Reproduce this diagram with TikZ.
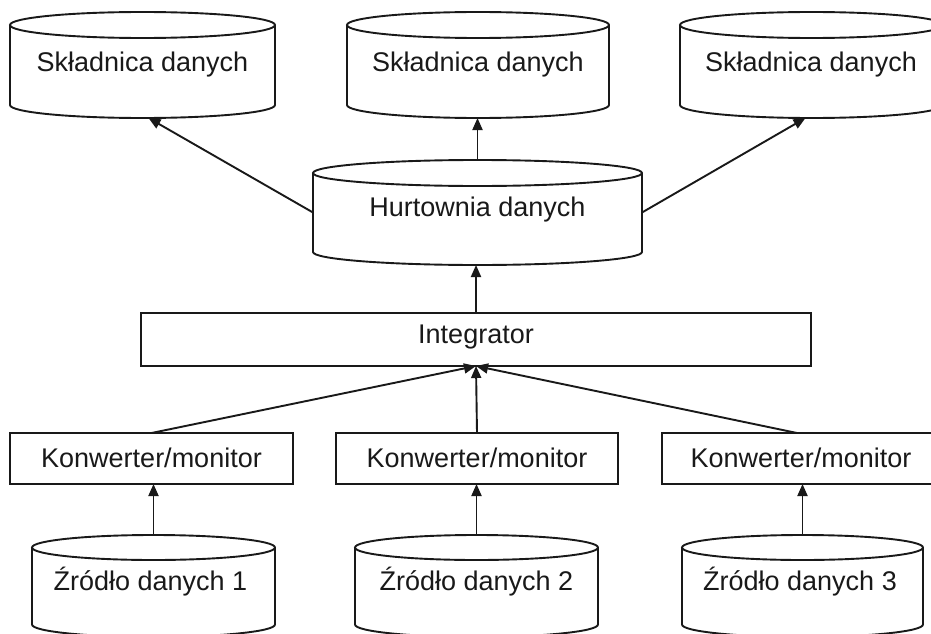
\documentclass[tikz,border=0pt]{standalone}
\usepackage{fontspec}
\setmainfont{Liberation Sans}
\usetikzlibrary{arrows.meta}

\tikzset{
  line/.style={draw=black!90, line width=1.9pt},
  cylbox/.style={rectangle, inner sep=0pt, outer sep=0pt},
  procbox/.style={rectangle, line, fill=white, inner sep=0pt, outer sep=0pt},
  caption/.style={inner sep=0pt, anchor=base, font=\fontsize{27}{32}\selectfont, text=black!90},
  flow/.style={line, -{Triangle[length=12pt,width=10pt]}},
}

% outline of a database cylinder around node #1; #2 = half width, #3 = ellipse half height
\newcommand\cylout[3]{%
  \draw[line, fill=white] ([yshift=-#3]#1.north west) -- ([yshift=#3]#1.south west)
    arc[start angle=180, end angle=360, x radius=#2, y radius=#3]
    -- ([yshift=-#3]#1.north east)
    arc[start angle=0, end angle=180, x radius=#2, y radius=#3]
    arc[start angle=180, end angle=360, x radius=#2, y radius=#3];
}

\begin{document}
\begin{tikzpicture}[x=1pt, y=-1pt]
  \useasboundingbox (0,0) rectangle (931,634);
  \fill[white] (0,0) rectangle (931,634);
  \clip (0,0) rectangle (931,634);

  % data marts
  \node[cylbox, minimum width=265pt, minimum height=106pt] (sk1) at (142.5,65) {};
  \node[cylbox, minimum width=262pt, minimum height=106pt] (sk2) at (478,65) {};
  \node[cylbox, minimum width=263pt, minimum height=106pt] (sk3) at (811.5,65) {};
  \cylout{sk1}{132.5pt}{13pt}
  \cylout{sk2}{131pt}{13pt}
  \cylout{sk3}{131.5pt}{13pt}
  \node[caption] (sk1t) at (142.5,71) {Składnica danych};
  \node[caption] (sk2t) at (478,71) {Składnica danych};
  \node[caption] (sk3t) at (811,71) {Składnica danych};

  % data warehouse
  \node[cylbox, minimum width=329pt, minimum height=105pt] (hw) at (477.5,212.5) {};
  \cylout{hw}{164.5pt}{13pt}
  \node[caption] (hwt) at (477.5,216) {Hurtownia danych};

  % integrator
  \node[procbox, minimum width=670pt, minimum height=53pt] (int) at (476,339.5) {};
  \node[caption] (intt) at (476,343) {Integrator};

  % converters / monitors
  \node[procbox, minimum width=283pt, minimum height=51pt] (k1) at (151.5,458.5) {};
  \node[procbox, minimum width=282pt, minimum height=51pt] (k2) at (477,458.5) {};
  \node[procbox, minimum width=278pt, minimum height=51pt] (k3) at (801,458.5) {};
  \node[caption] (k1t) at (151.5,467) {Konwerter/monitor};
  \node[caption] (k2t) at (477,467) {Konwerter/monitor};
  \node[caption] (k3t) at (801,467) {Konwerter/monitor};

  % data sources
  \node[cylbox, minimum width=243pt, minimum height=102pt] (src1) at (153.5,586) {};
  \node[cylbox, minimum width=243pt, minimum height=102pt] (src2) at (476.5,586) {};
  \node[cylbox, minimum width=241pt, minimum height=102pt] (src3) at (802.5,586) {};
  \cylout{src1}{121.5pt}{12.5pt}
  \cylout{src2}{121.5pt}{12.5pt}
  \cylout{src3}{120.5pt}{12.5pt}
  \node[caption] (src1t) at (150.5,590) {Źródło danych 1};
  \node[caption] (src2t) at (476.5,590) {Źródło danych 2};
  \node[caption] (src3t) at (800,590) {Źródło danych 3};

  % data flow
  \draw[flow] (src1.north) -- (src1.north |- k1.south);
  \draw[flow] (src2.north) -- (src2.north |- k2.south);
  \draw[flow] (src3.north) -- (src3.north |- k3.south);
  \draw[flow] (k1.north) -- (int.south);
  \draw[flow] (k2.north) -- (int.south);
  \draw[flow] ([xshift=-4pt]k3.north) -- (int.south);
  \draw[flow] (int.north) -- (int.north |- hw.south);
  \draw[flow] (hw.west) -- ([xshift=6pt]sk1.south);
  \draw[flow] (hw.north) -- (hw.north |- sk2.south);
  \draw[flow] (hw.east) -- ([xshift=-6pt]sk3.south);
\end{tikzpicture}
\end{document}
